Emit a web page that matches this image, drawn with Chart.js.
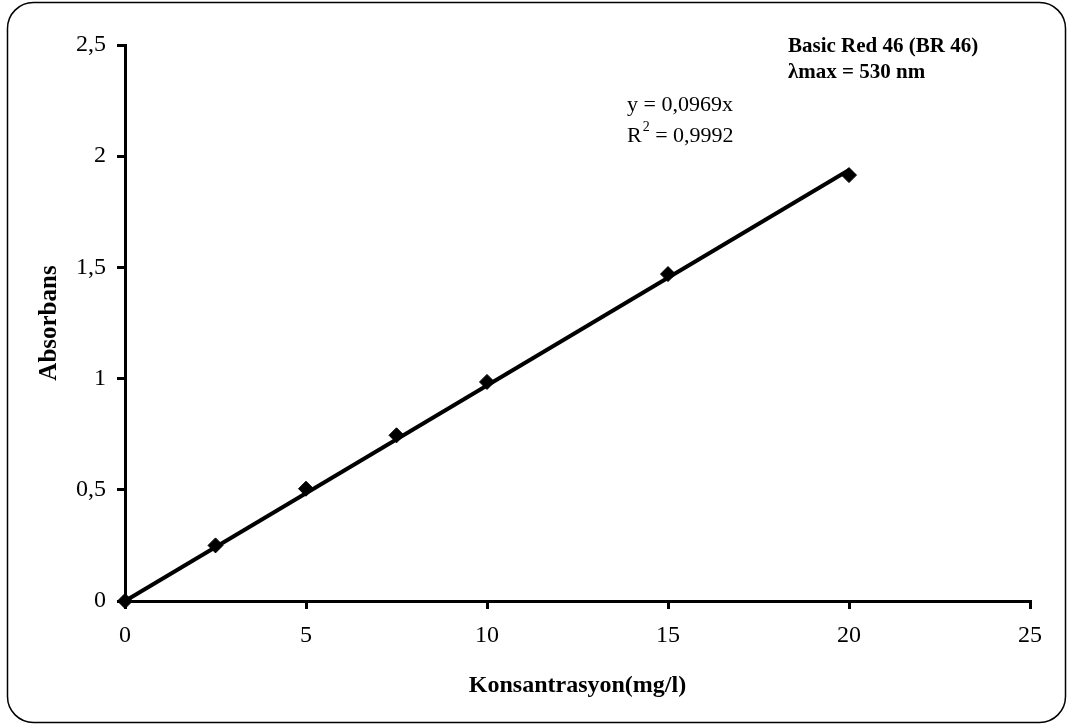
<!DOCTYPE html>
<html>
<head>
<meta charset="utf-8">
<script src="https://cdn.jsdelivr.net/npm/chart.js@4"></script>
<style>
  html, body { margin: 0; padding: 0; background: #fff; }
  #wrap { position: relative; width: 1068px; height: 726px; }
</style>
</head>
<body>
<div id="wrap"><canvas id="chart" width="1068" height="726"></canvas></div>
<script>
// Calibration data for Basic Red 46
const concentrations = [0, 2.5, 5, 7.5, 10, 15, 20];          // mg/l
const absorbance     = [0, 0.25, 0.505, 0.745, 0.985, 1.47, 1.915];
const trendSlope = 0.0969;       // linear fit through the origin
const trendRange = [0, 20];      // x extent of the fitted line
const rSquaredText = '0,9992';
const titleLines = ['Basic Red 46 (BR 46)', '\u03BBmax = 530 nm'];
const xTitle = 'Konsantrasyon(mg/l)';
const yTitle = 'Absorbans';

const FONT = '"Liberation Serif", "Times New Roman", serif';

const pointData = concentrations.map((c, i) => ({ x: c, y: absorbance[i] }));
const trendData = trendRange.map(x => ({ x: x, y: trendSlope * x }));

const commaNum = v => String(v).replace('.', ',');

// Rounded frame around the whole figure plus the text annotations
const framePlugin = {
  id: 'frame',
  beforeDraw(chart) {
    const ctx = chart.ctx;
    ctx.save();
    ctx.fillStyle = '#fff';
    ctx.fillRect(0, 0, chart.width, chart.height);
    const x = 7.5, y = 2.5, w = 1058, h = 720, r = 26;
    ctx.beginPath();
    ctx.moveTo(x + r, y);
    ctx.arcTo(x + w, y, x + w, y + h, r);
    ctx.arcTo(x + w, y + h, x, y + h, r);
    ctx.arcTo(x, y + h, x, y, r);
    ctx.arcTo(x, y, x + w, y, r);
    ctx.closePath();
    ctx.lineWidth = 1.5;
    ctx.strokeStyle = '#000';
    ctx.stroke();
    ctx.restore();
  },
  afterDraw(chart) {
    const ctx = chart.ctx;
    ctx.save();
    ctx.fillStyle = '#000';
    ctx.textBaseline = 'middle';
    ctx.textAlign = 'left';
    ctx.font = 'bold 21px ' + FONT;
    ctx.fillText(titleLines[0], 788, 47);
    ctx.fillText(titleLines[1], 788, 73);

    ctx.font = '22px ' + FONT;
    ctx.fillText('y = ' + commaNum(trendSlope) + 'x', 627, 105);
    ctx.fillText('R', 627, 136);
    const rw = ctx.measureText('R').width;
    ctx.font = '14px ' + FONT;
    ctx.fillText('2', 627 + rw + 1, 127);
    const sw = ctx.measureText('2').width;
    ctx.font = '22px ' + FONT;
    ctx.fillText(' = ' + rSquaredText, 627 + rw + 1 + sw, 136);
    ctx.restore();
  }
};

new Chart(document.getElementById('chart'), {
  type: 'scatter',
  data: {
    datasets: [
      {
        label: 'trend',
        type: 'line',
        data: trendData,
        borderColor: '#000',
        borderWidth: 4,
        pointRadius: 0,
        fill: false,
        clip: false,
        order: 2
      },
      {
        label: 'BR 46',
        data: pointData,
        pointStyle: 'rectRot',
        pointRadius: 7.5,
        pointHoverRadius: 7.5,
        backgroundColor: '#000',
        borderColor: '#000',
        borderWidth: 1,
        clip: false,
        order: 1
      }
    ]
  },
  options: {
    responsive: false,
    animation: false,
    events: [],
    layout: { padding: { left: 0, top: 45, right: 38, bottom: 0 } },
    plugins: {
      legend: { display: false },
      tooltip: { enabled: false }
    },
    scales: {
      x: {
        type: 'linear',
        min: 0, max: 25,
        afterFit: s => { s.height = 125; },
        ticks: {
          stepSize: 5,
          color: '#000',
          padding: 12,
          font: { family: FONT, size: 24 }
        },
        grid: { drawOnChartArea: false, drawTicks: true, tickLength: 8, color: '#000', lineWidth: 3 },
        border: { display: true, color: '#000', width: 3 },
        title: {
          display: true,
          text: xTitle,
          color: '#000',
          font: { family: FONT, size: 24, weight: 'bold' },
          padding: { top: 0, bottom: 26 }
        }
      },
      y: {
        type: 'linear',
        min: 0, max: 2.5,
        afterFit: s => { s.width = 125; },
        ticks: {
          stepSize: 0.5,
          color: '#000',
          padding: 11,
          font: { family: FONT, size: 24 },
          callback: v => commaNum(v)
        },
        grid: { drawOnChartArea: false, drawTicks: true, tickLength: 8, color: '#000', lineWidth: 3 },
        border: { display: true, color: '#000', width: 3 },
        title: {
          display: true,
          text: yTitle,
          color: '#000',
          font: { family: FONT, size: 25, weight: 'bold' },
          padding: { top: 35, bottom: 0 }
        }
      }
    }
  },
  plugins: [framePlugin]
});
</script>
</body>
</html>
